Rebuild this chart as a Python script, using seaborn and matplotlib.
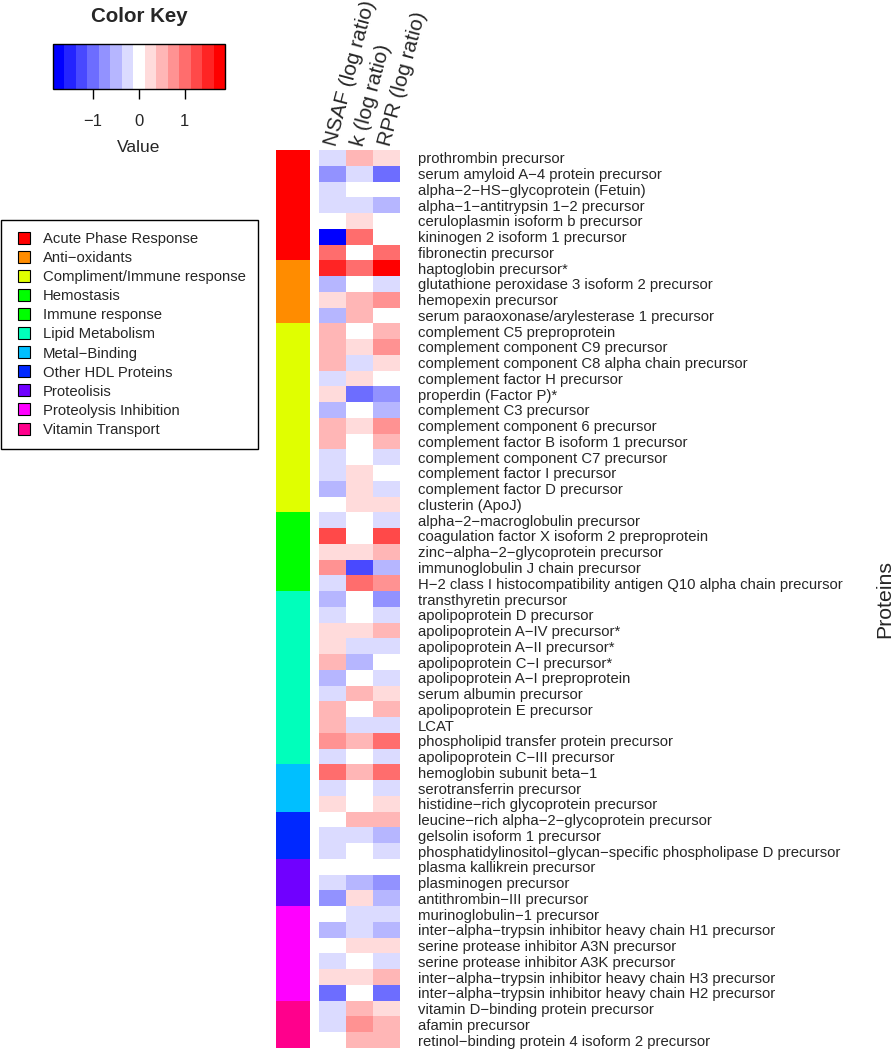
import numpy as np
import pandas as pd
import matplotlib
matplotlib.use("Agg")
import matplotlib.pyplot as plt
import seaborn as sns
from matplotlib.colors import ListedColormap
from matplotlib.cm import ScalarMappable
from matplotlib.colors import Normalize
from matplotlib.lines import Line2D

# ---------------- data ----------------
proteins = [
    "prothrombin precursor",
    "serum amyloid A-4 protein precursor",
    "alpha-2-HS-glycoprotein (Fetuin)",
    "alpha-1-antitrypsin 1-2 precursor",
    "ceruloplasmin isoform b precursor",
    "kininogen 2 isoform 1 precursor",
    "fibronectin precursor",
    "haptoglobin precursor*",
    "glutathione peroxidase 3 isoform 2 precursor",
    "hemopexin precursor",
    "serum paraoxonase/arylesterase 1 precursor",
    "complement C5 preproprotein",
    "complement component C9 precursor",
    "complement component C8 alpha chain precursor",
    "complement factor H precursor",
    "properdin (Factor P)*",
    "complement C3 precursor",
    "complement component 6 precursor",
    "complement factor B isoform 1 precursor",
    "complement component C7 precursor",
    "complement factor I precursor",
    "complement factor D precursor",
    "clusterin (ApoJ)",
    "alpha-2-macroglobulin precursor",
    "coagulation factor X isoform 2 preproprotein",
    "zinc-alpha-2-glycoprotein precursor",
    "immunoglobulin J chain precursor",
    "H-2 class I histocompatibility antigen Q10 alpha chain precursor",
    "transthyretin precursor",
    "apolipoprotein D precursor",
    "apolipoprotein A-IV precursor*",
    "apolipoprotein A-II precursor*",
    "apolipoprotein C-I precursor*",
    "apolipoprotein A-I preproprotein",
    "serum albumin precursor",
    "apolipoprotein E precursor",
    "LCAT",
    "phospholipid transfer protein precursor",
    "apolipoprotein C-III precursor",
    "hemoglobin subunit beta-1",
    "serotransferrin precursor",
    "histidine-rich glycoprotein precursor",
    "leucine-rich alpha-2-glycoprotein precursor",
    "gelsolin isoform 1 precursor",
    "phosphatidylinositol-glycan-specific phospholipase D precursor",
    "plasma kallikrein precursor",
    "plasminogen precursor",
    "antithrombin-III precursor",
    "murinoglobulin-1 precursor",
    "inter-alpha-trypsin inhibitor heavy chain H1 precursor",
    "serine protease inhibitor A3N precursor",
    "serine protease inhibitor A3K precursor",
    "inter-alpha-trypsin inhibitor heavy chain H3 precursor",
    "inter-alpha-trypsin inhibitor heavy chain H2 precursor",
    "vitamin D-binding protein precursor",
    "afamin precursor",
    "retinol-binding protein 4 isoform 2 precursor",
]

columns = ["NSAF (log ratio)", "k (log ratio)", "RPR (log ratio)"]

nsaf = [-0.25, -0.75, -0.25, -0.25, 0, -1.75, 1.0, 1.5, -0.5, 0.25, -0.5,
        0.5, 0.5, 0.5, -0.25, 0.25, -0.5, 0.5, 0.5, -0.25, -0.25, -0.5, 0,
        -0.25, 1.25, 0.25, 0.75, -0.25,
        -0.5, -0.25, 0.25, 0.25, 0.5, -0.5, -0.25, 0.5, 0.5, 0.75, -0.25,
        1.0, -0.25, 0.25, 0, -0.25, -0.25, 0, -0.25, -0.75,
        0, -0.5, 0, -0.25, 0.25, -1.0, -0.25, -0.25, 0]

k_ratio = [0.5, -0.25, 0, -0.25, 0.25, 1.0, 0, 1.0, 0, 0.5, 0.5,
           0, 0.25, -0.25, 0.25, -1.0, 0, 0.25, 0, 0, 0.25, 0.25, 0.25,
           0, 0, 0.25, -1.25, 1.0,
           0, 0, 0.25, -0.25, -0.5, 0, 0.5, 0, -0.25, 0.5, 0,
           0.5, 0, 0, 0.5, -0.25, 0, 0, -0.5, 0.25,
           -0.25, -0.25, 0.25, 0, 0.25, 0, 0.5, 0.75, 0.5]

rpr = [0.25, -1.0, 0, -0.5, 0, 0, 1.0, 1.75, -0.25, 0.75, 0,
       0.5, 0.75, 0.25, 0, -0.75, -0.5, 0.75, 0.5, -0.25, 0, -0.25, 0.25,
       -0.25, 1.25, 0.5, -0.5, 0.75,
       -0.75, -0.25, 0.5, -0.25, 0, -0.25, 0.25, 0.5, -0.25, 1.0, -0.25,
       1.0, -0.25, 0.25, 0.5, -0.5, -0.25, 0, -0.75, -0.5,
       -0.25, -0.5, 0.25, -0.25, 0.5, -1.0, 0.25, 0.5, 0.5]

category_names = ["Acute Phase Response", "Anti-oxidants",
                  "Compliment/Immune response", "Hemostasis",
                  "Immune response", "Lipid Metabolism", "Metal-Binding",
                  "Other HDL Proteins", "Proteolisis",
                  "Proteolysis Inhibition", "Vitamin Transport"]
category_counts = [7, 4, 12, 3, 2, 11, 3, 3, 3, 6, 3]
category_colors = ["#FF0000", "#FF8C00", "#E0FF00", "#00FF00", "#00FF00",
                   "#00FFBB", "#00BFFF", "#0028FF", "#7000FF", "#FF00FF",
                   "#FF008C"]

key_ticks = [-1, 0, 1]
key_limit = 1.875
n_key_colors = 15

# ---------------- style ----------------
sns.set_style("white")
plt.rcParams["font.family"] = ["Liberation Sans", "DejaVu Sans"]

W, H = 894, 1050
fig = plt.figure(figsize=(W / 100, H / 100), dpi=100)


def px_axes(x0, y0, x1, y1):
    return fig.add_axes([x0 / W, 1 - y1 / H, (x1 - x0) / W, (y1 - y0) / H])


def disp(s):
    return s.replace("-", "\u2212")


# blue-white-red palette (15 levels)
half = n_key_colors // 2
blues = [(i / half, i / half, 1.0) for i in range(half)]
reds = [(1.0, 1 - i / half, 1 - i / half) for i in range(1, half + 1)]
key_colors = blues + [(1.0, 1.0, 1.0)] + reds
cmap = ListedColormap(key_colors)

# ---------------- main heatmap ----------------
df = pd.DataFrame({columns[0]: nsaf, columns[1]: k_ratio, columns[2]: rpr},
                  index=[disp(p) for p in proteins])

ax = px_axes(319, 150, 400, 1048)
sns.heatmap(df, ax=ax, cmap=cmap, vmin=-key_limit, vmax=key_limit,
            cbar=False, xticklabels=False, yticklabels=True)
ax.yaxis.tick_right()
ax.tick_params(axis="y", length=0, pad=13, labelsize=10.7)
plt.setp(ax.get_yticklabels(), rotation=0, ha="left")
ax.set_ylabel("")
ax.set_xlabel("")
for j, col in enumerate(columns):
    ax.text(j + 0.65, -0.2, col, rotation=75, rotation_mode="anchor",
            ha="left", va="baseline", fontsize=15, clip_on=False)

# ---------------- side colour bar ----------------
codes = np.repeat(np.arange(len(category_names)), category_counts)
ax_side = px_axes(276, 150, 310, 1048)
sns.heatmap(codes.reshape(-1, 1), ax=ax_side,
            cmap=ListedColormap(category_colors),
            vmin=-0.5, vmax=len(category_names) - 0.5,
            cbar=False, xticklabels=False, yticklabels=False)

fig.text(885 / W, 1 - 599 / H, "Proteins", rotation=90, ha="center",
         va="center", fontsize=15.3)

# ---------------- colour key ----------------
cax = px_axes(53, 44, 225, 89)
sm = ScalarMappable(norm=Normalize(-key_limit, key_limit), cmap=cmap)
cb = fig.colorbar(sm, cax=cax, orientation="horizontal", ticks=key_ticks)
cb.outline.set_edgecolor("black")
cb.outline.set_linewidth(1.0)
cax.tick_params(axis="x", length=7, width=1, labelsize=12, pad=11,
                color="black")
cax.set_xlabel("Value", fontsize=12.5, labelpad=8)
fig.text(139 / W, 1 - 17 / H, "Color Key", ha="center", va="center",
         fontsize=14.8, weight="bold")

# ---------------- legend ----------------
handles = [Line2D([], [], marker="s", linestyle="None", markersize=8.4,
                  markerfacecolor=c, markeredgecolor="black",
                  markeredgewidth=0.8) for c in category_colors]
leg = fig.legend(handles, [disp(n) for n in category_names],
                 loc="upper left", bbox_to_anchor=(1 / W, 1 - 220 / H),
                 bbox_transform=fig.transFigure, frameon=True,
                 fancybox=False, edgecolor="black", framealpha=1,
                 fontsize=10.7, borderpad=0.82, labelspacing=0.34,
                 handlelength=1.4, handletextpad=0.62, borderaxespad=0)
leg.get_frame().set_linewidth(1.0)

fig.savefig("out.png", dpi=100)
